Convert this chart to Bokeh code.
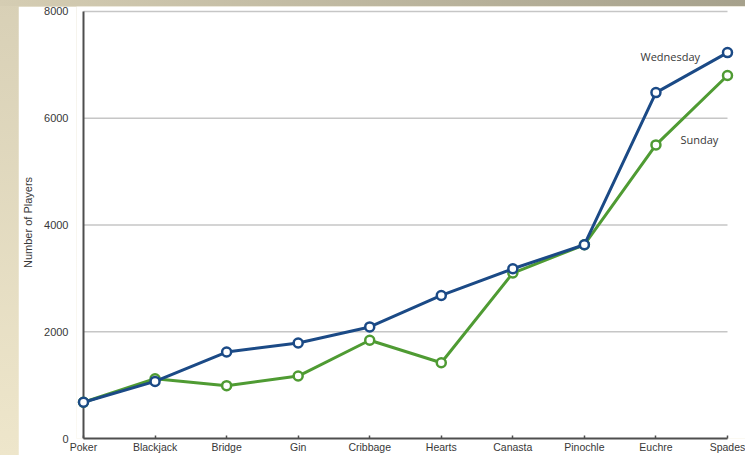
from bokeh.plotting import figure
from bokeh.models import FixedTicker, Label, ColumnDataSource
from bokeh.layouts import column
from bokeh.embed import file_html
from bokeh.resources import INLINE

# Players per card game on two days
categories = ["Poker", "Blackjack", "Bridge", "Gin", "Cribbage",
              "Hearts", "Canasta", "Pinochle", "Euchre", "Spades"]
wednesday = [680, 1070, 1620, 1790, 2090, 2680, 3180, 3630, 6480, 7230]
sunday = [680, 1120, 990, 1170, 1840, 1420, 3100, 3630, 5500, 6800]
y_ticks = [0, 2000, 4000, 6000, 8000]

BLUE = "#1b4a86"
GREEN = "#4f9b33"
AXIS = "#4e4e4e"
TEXT = "#383838"

xs = list(range(len(categories)))
last = xs[-1]

# frame: left edge sits a little left of the first category so its marker is whole
frame_left_px = 58
axis_px = 65                # where the first category (and the y axis line) falls
px_per_cat = 71.56
x_start = -(axis_px - frame_left_px) / px_per_cat
x_end = last + 18 / px_per_cat

p = figure(width=727, height=449, output_backend="svg", toolbar_location=None,
           x_range=(x_start, x_end), y_range=(0, 8093),
           min_border_left=frame_left_px, min_border_right=0, min_border_top=0,
           min_border_bottom=15, margin=(6, 0, 0, 18))
p.background_fill_color = "white"
p.border_fill_color = "white"
p.outline_line_color = None
p.xgrid.visible = False
p.ygrid.visible = False

# horizontal guide lines between the first and last category
grid = ColumnDataSource(dict(y=y_ticks[1:], x0=[xs[0]] * 4, x1=[last] * 4))
p.segment(x0="x0", y0="y", x1="x1", y1="y", source=grid,
          line_color="#c6c6c6", line_width=1.6)

# vertical axis line drawn through the first category
p.segment(x0=[xs[0]], y0=[y_ticks[0]], x1=[xs[0]], y1=[y_ticks[-1]],
          line_color=AXIS, line_width=2)

# x axis with category names
xa = p.xaxis[0]
xa.ticker = FixedTicker(ticks=xs)
xa.major_label_overrides = {i: c for i, c in enumerate(categories)}
xa.bounds = (xs[0], last)
xa.axis_line_color = AXIS
xa.axis_line_width = 2
xa.major_tick_in = 3
xa.major_tick_out = 0
xa.major_tick_line_color = AXIS
xa.major_tick_line_width = 1.5
xa.minor_tick_line_color = None
xa.major_label_standoff = 2
xa.major_label_text_font = "Liberation Sans"
xa.major_label_text_font_size = "10.5px"
xa.major_label_text_color = TEXT

# y axis: labels only, its line is the segment above
ya = p.yaxis[0]
ya.ticker = FixedTicker(ticks=y_ticks)
ya.axis_line_color = None
ya.major_tick_in = 0
ya.major_tick_out = 0
ya.minor_tick_line_color = None
ya.major_label_standoff = 8
ya.major_label_text_font = "Liberation Sans"
ya.major_label_text_font_size = "11px"
ya.major_label_text_color = TEXT
ya.axis_label = "Number of Players"
ya.axis_label_standoff = 7
ya.axis_label_text_font = "Liberation Sans"
ya.axis_label_text_font_size = "11px"
ya.axis_label_text_font_style = "normal"
ya.axis_label_text_color = TEXT

# series: Sunday underneath, Wednesday on top
for vals, col in ((sunday, GREEN), (wednesday, BLUE)):
    src = ColumnDataSource(dict(x=xs, y=vals))
    p.line("x", "y", source=src, line_color=col, line_width=3)
    p.scatter("x", "y", source=src, size=9, fill_color="white",
              line_color=col, line_width=2.5)

p.add_layout(Label(x=7.784, y=7161, text="Wednesday", text_font="Open Sans",
                   text_font_size="11px", text_color=TEXT, text_baseline="middle"))
p.add_layout(Label(x=8.343, y=5594, text="Sunday", text_font="Open Sans",
                   text_font_size="11px", text_color=TEXT, text_baseline="middle"))

page = column(p, width=745, height=455, styles={
    "background": "linear-gradient(to right, #d5cdb3, #a6a18c) 0 0 / 100% 6px no-repeat, "
                  "linear-gradient(#d8d0b6, #eee6cb)"})

open("out.html", "w").write(file_html(page, INLINE))
